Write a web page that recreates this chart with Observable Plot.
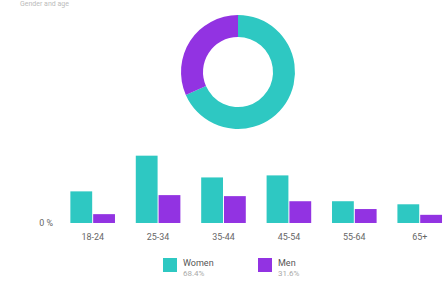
<!DOCTYPE html>
<html>
<head>
<meta charset="utf-8">
<script src="https://cdn.jsdelivr.net/npm/d3@7"></script>
<script src="https://cdn.jsdelivr.net/npm/@observablehq/plot@0.6"></script>
<style>
  html, body { margin: 0; padding: 0; background: #fff; overflow: hidden; }
  body { width: 445px; height: 281px; position: relative; font-family: Roboto, "Noto Sans", sans-serif; }
  #title { position: absolute; left: 20px; top: 0px; font-size: 7px; line-height: 8px; color: #bbb; white-space: nowrap; }
  #donut { position: absolute; left: 0; top: 0; }
  #bars { position: absolute; left: 0; top: 0; }
  #legend { position: absolute; top: 258px; left: 0; width: 445px; height: 23px; }
  .li { position: absolute; top: 0; display: flex; align-items: flex-start; }
  .sw { width: 14px; height: 14px; margin-right: 6px; }
  .lt { font-size: 9px; color: #555; line-height: 11px; }
  .lp { font-size: 8px; color: #aaa; line-height: 10px; }
</style>
</head>
<body>
<div id="title">Gender and age</div>
<div id="donut"></div>
<div id="bars"></div>
<div id="legend"></div>
<script>
// ---- data ----
const ageGroups = ["18-24", "25-34", "35-44", "45-54", "55-64", "65+"];
const genders = ["Women", "Men"];
const womenValues = [9.3, 19.8, 13.4, 14.0, 6.4, 5.5];
const menValues = [2.6, 8.2, 7.9, 6.4, 4.1, 2.4];
const genderColors = ["#2ec8c2", "#9233e2"];

const rows = [];
ageGroups.forEach((a, i) => {
  rows.push({age: a, gender: "Women", value: womenValues[i]});
  rows.push({age: a, gender: "Men", value: menValues[i]});
});
const totals = [
  {gender: "Women", value: d3.sum(womenValues)},
  {gender: "Men", value: d3.sum(menValues)}
];
const grand = d3.sum(totals, d => d.value);

// ---- donut ----
function donutMark(index, scales, values, dims) {
  const pie = d3.pie().sort(null).value(d => d.value).startAngle(0).endAngle(2 * Math.PI);
  const arc = d3.arc().innerRadius(35).outerRadius(57);
  const cx = scales.x(0), cy = scales.y(0);
  const g = d3.create("svg:g").attr("transform", `translate(${cx},${cy})`);
  g.selectAll("path").data(pie(totals)).join("path")
    .attr("d", arc)
    .attr("fill", d => scales.color(d.data.gender));
  return g.node();
}
const donut = Plot.plot({
  width: 445, height: 145,
  margin: 0,
  x: {domain: [-1, 1], range: [180, 296], axis: null},
  y: {domain: [-1, 1], range: [130, 14], axis: null},
  color: {domain: genders, range: genderColors},
  marks: [
    Plot.dot([{x: 0, y: 0}], {x: "x", y: "y", r: 0, stroke: "none"}),
    donutMark
  ]
});
document.getElementById("donut").appendChild(donut);

// ---- bars ----
const bars = Plot.plot({
  width: 449, height: 281,
  marginTop: 156.4, marginBottom: 56, marginLeft: 67, marginRight: 1,
  style: {fontFamily: "Roboto, 'Noto Sans', sans-serif", fontSize: "9px", color: "#666", background: "transparent"},
  fx: {domain: ageGroups, paddingInner: 0.31, paddingOuter: 0, label: null, tickSize: 0, tickPadding: 10},
  x: {domain: genders, paddingInner: 0.05, paddingOuter: 0, axis: null},
  y: {domain: [0, 20], ticks: [0], tickFormat: d => d + " %", tickSize: 0, tickPadding: 17, label: null},
  color: {domain: genders, range: genderColors},
  marks: [
    Plot.barY(rows, {fx: "age", x: "gender", y: "value", fill: "gender"})
  ]
});
document.getElementById("bars").appendChild(bars);

// ---- legend ----
const legend = document.getElementById("legend");
const legendX = [163, 258];
totals.forEach((t, i) => {
  const item = document.createElement("div");
  item.className = "li";
  item.style.left = legendX[i] + "px";
  item.innerHTML = `<div class="sw" style="background:${genderColors[i]}"></div>
    <div><div class="lt">${t.gender}</div><div class="lp">${(t.value / grand * 100).toFixed(1)}%</div></div>`;
  legend.appendChild(item);
});
</script>
</body>
</html>
